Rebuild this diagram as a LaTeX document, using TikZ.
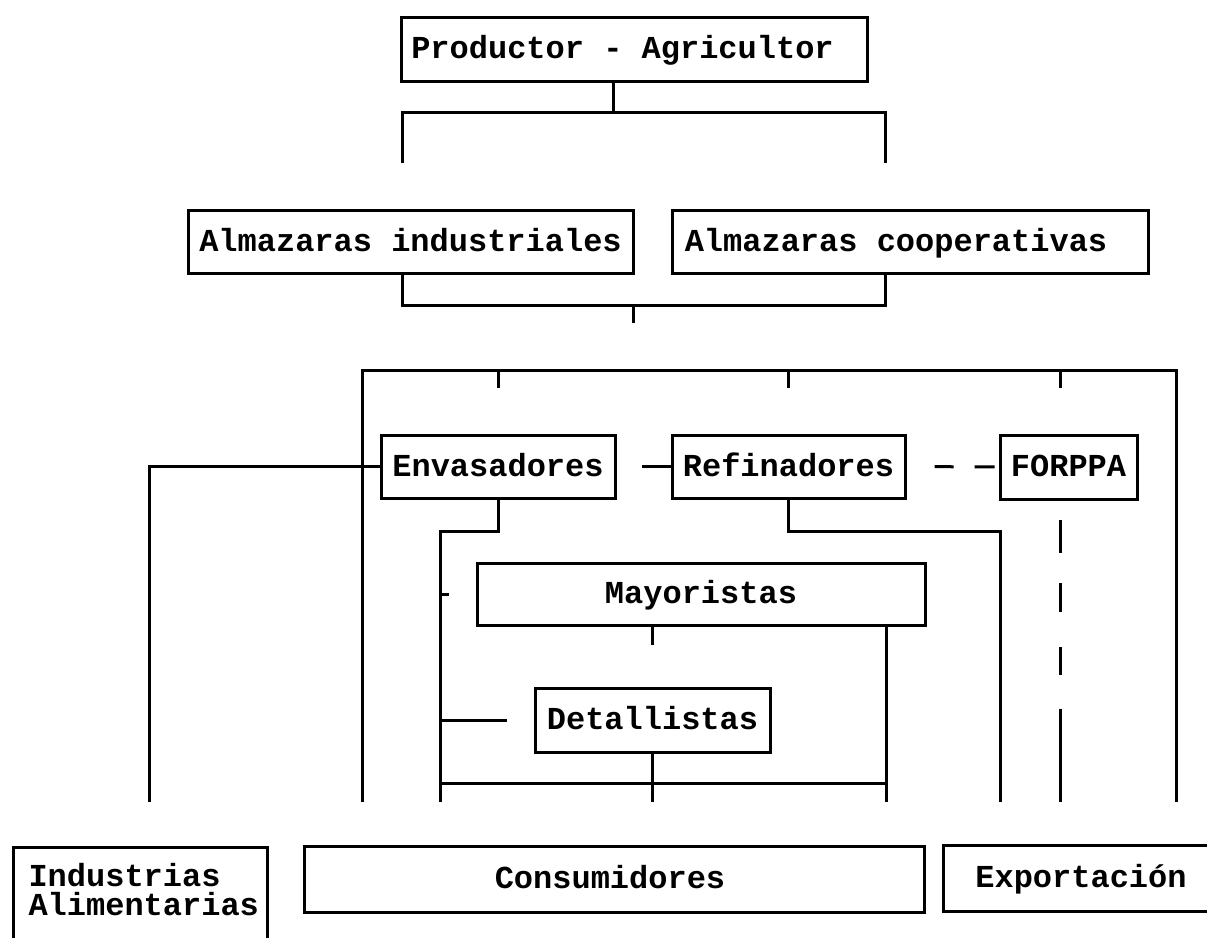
\documentclass[tikz,border=0pt]{standalone}
\usepackage{fontspec}
\setmainfont{Liberation Mono}
\usetikzlibrary{calc}
\tikzset{
  ln/.style={line width=3pt},
  box/.style={draw, line width=3pt, inner sep=0pt, text height=19pt, text depth=0pt,
    font=\bfseries\fontsize{32}{25}\selectfont},
  tallbox/.style={draw, line width=3pt, inner sep=0pt,
    font=\bfseries\fontsize{32}{25}\selectfont},
}
\begin{document}
\begin{tikzpicture}[x=1pt,y=-1pt]
\path[use as bounding box] (0,0) rectangle (1207,937);
\begin{scope}
\clip (0,0) rectangle (1207,937);
% boxes
\node[box, minimum width=466pt, minimum height=64pt] (prod) at (634,49) {\hspace*{-23pt}Productor - Agricultor};
\node[box, minimum width=445pt, minimum height=63pt] (ind) at (410.5,241.5) {Almazaras industriales};
\node[box, minimum width=476pt, minimum height=63pt] (coop) at (910,241.5) {\hspace*{-28pt}Almazaras cooperativas};
\node[box, minimum width=234pt, minimum height=63pt] (env) at (498,466.5) {Envasadores};
\node[box, minimum width=233pt, minimum height=63pt] (ref) at (788.5,466.5) {Refinadores};
\node[box, minimum width=137pt, minimum height=64pt] (forppa) at (1068.5,467) {FORPPA};
\node[box, minimum width=448pt, minimum height=62pt] (may) at (701,594) {Mayoristas};
\node[box, minimum width=235pt, minimum height=64pt] (det) at (652.5,720) {Detallistas};
\node[box, minimum width=620pt, minimum height=66pt] (cons) at (614,879) {\hspace*{-8pt}Consumidores};
\node[box, minimum width=276pt, minimum height=66pt] (exp) at (1081,878) {Exportación};
\node[tallbox, anchor=north west, minimum width=254pt, minimum height=140pt] (indal) at (12,846)
  {\vbox to 140pt{\offinterlineskip\kern39pt\hbox to 254pt{\hskip15pt\smash{Industrias}\hfil}\kern29pt\hbox to 254pt{\hskip15pt\smash{Alimentarias}\hfil}\vfil}};
% connectors
\coordinate (j1) at (613,112);
\coordinate (b1l) at (402,163);
\coordinate (b1r) at (885,163);
\draw[ln] (prod.south -| j1) -- (j1);
\draw[ln] (b1l) |- (j1) -| (b1r);
\coordinate (j2) at (633,305);
\draw[ln] (ind.south -| b1l) |- (j2) -| (coop.south -| b1r);
\draw[ln] (j2) -- ++(0,18);
\coordinate (tl) at (362,370);
\coordinate (tr) at (1176,370);
\coordinate (bigL) at (362,802);
\coordinate (bigR) at (1176,802);
\draw[ln] (bigL) -- (tl) -- (tr) -- (bigR);
\coordinate (fd) at (1060,802);
\draw[ln] (env.north |- tl) -- ++(0,18);
\draw[ln] (ref.north |- tl) -- ++(0,18);
\draw[ln] (fd |- tl) -- ++(0,18);
\coordinate (indtop) at (149,802);
\draw[ln] (env.west) -| (indtop);
\draw[ln] (ref.west) -- ++(-29,0);
\draw[ln, dash pattern=on 0pt off 28pt on 19pt off 21pt on 20pt off 60pt] (ref.east) -- (forppa.west);
\coordinate (innerL) at (440,802);
\coordinate (innerR) at (886,802);
\coordinate (refR) at (1000,802);
\coordinate (hy) at (0,531);
\draw[ln] (env.south) |- (innerL |- hy) -- (innerL);
\draw[ln] (ref.south) |- (refR |- hy) -- (refR);
\draw[ln] (may.west -| innerL) -- ++(9,0);
\draw[ln] (det.west -| innerL) -- ++(67,0);
\draw[ln] (may.south -| det.south) -- ++(0,18);
\draw[ln] (may.south -| innerR) -- (innerR);
\draw[ln] (det.south) -- (det.south |- innerR);
\coordinate (hb) at (0,783);
\draw[ln] (innerL |- hb) -- (innerR |- hb);
\draw[ln, dash pattern=on 0pt off 19pt on 33pt off 30pt on 29pt off 35pt on 28pt off 34pt on 200pt] (forppa.south -| fd) -- (fd);
\end{scope}
\end{tikzpicture}
\end{document}
